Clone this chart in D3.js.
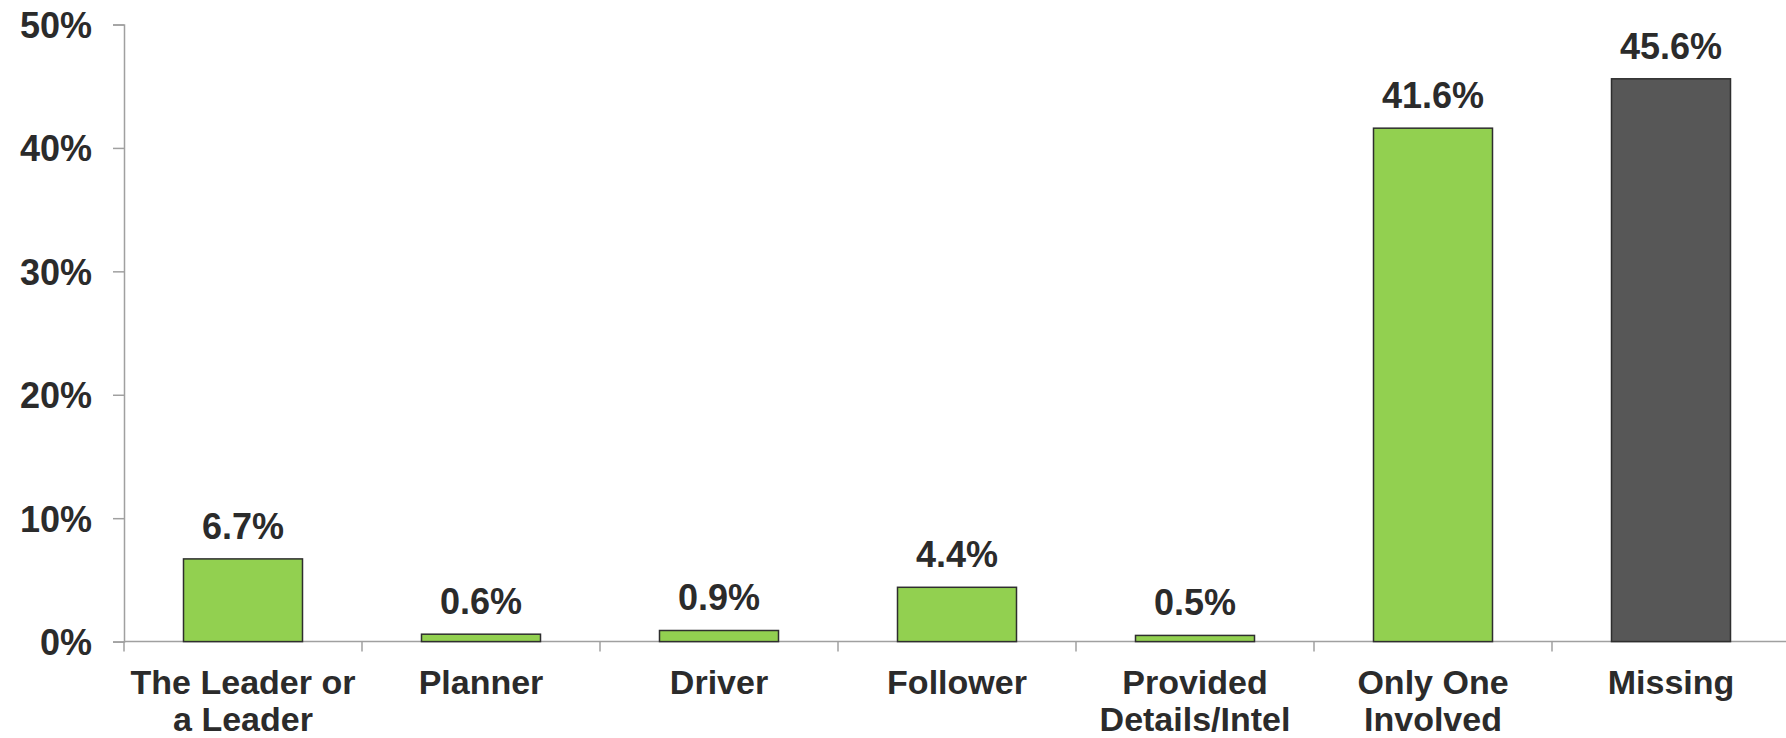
<!DOCTYPE html>
<html>
<head>
<meta charset="utf-8">
<script src="https://cdn.jsdelivr.net/npm/d3@7"></script>
<style>
  html, body { margin: 0; padding: 0; background: #fff; }
  svg { display: block; }
  text { font-family: "Liberation Sans", Arial, sans-serif; font-weight: bold; fill: #2b2b2b; }
</style>
</head>
<body>
<svg id="chart" width="1786" height="738"></svg>
<script>
const categories = [
  ["The Leader or", "a Leader"],
  ["Planner"],
  ["Driver"],
  ["Follower"],
  ["Provided", "Details/Intel"],
  ["Only One", "Involved"],
  ["Missing"]
];
const values = [6.7, 0.6, 0.9, 4.4, 0.5, 41.6, 45.6];
const barColors = ["#92D050", "#92D050", "#92D050", "#92D050", "#92D050", "#92D050", "#575757"];
const yTicks = [0, 10, 20, 30, 40, 50];

const svg = d3.select("#chart");
const mLeft = 124, mRight = 1790, mTop = 24.5, mBottom = 641.6;
const keys = categories.map((c, i) => i);

const x = d3.scaleBand().domain(keys).range([mLeft, mRight]).paddingInner(0.5).paddingOuter(0.25);
const y = d3.scaleLinear().domain([0, 50]).range([mBottom, mTop]);
const step = x.step();

const axisColor = "#a0a0a0";

// y axis
const yAxis = d3.axisLeft(y).tickValues(yTicks).tickSize(11).tickPadding(21).tickFormat(d => d + "%");
const gy = svg.append("g").attr("transform", `translate(${mLeft},0)`).call(yAxis);
gy.select(".domain").attr("stroke", axisColor).attr("stroke-width", 1.5);
gy.selectAll(".tick line").attr("stroke", axisColor).attr("stroke-width", 1.5);
gy.selectAll(".tick text").attr("font-size", 36).attr("font-family", "Liberation Sans, Arial, sans-serif")
  .attr("font-weight", "bold").attr("fill", "#2b2b2b").attr("dy", "0.36em");

// x axis line
svg.append("line").attr("x1", mLeft).attr("x2", 1786).attr("y1", y(0)).attr("y2", y(0))
  .attr("stroke", axisColor).attr("stroke-width", 1.5);
// category separator ticks
svg.selectAll("line.xtick").data(d3.range(keys.length + 1)).join("line")
  .attr("class", "xtick")
  .attr("x1", i => mLeft + i * step).attr("x2", i => mLeft + i * step)
  .attr("y1", y(0)).attr("y2", y(0) + 10)
  .attr("stroke", axisColor).attr("stroke-width", 1.5);

// bars
svg.selectAll("rect.bar").data(values).join("rect")
  .attr("class", "bar")
  .attr("x", (d, i) => x(i))
  .attr("width", x.bandwidth())
  .attr("y", d => y(d))
  .attr("height", d => y(0) - y(d))
  .attr("fill", (d, i) => barColors[i])
  .attr("stroke", "#2e2e2e")
  .attr("stroke-width", 1.5);

// value labels
svg.selectAll("text.val").data(values).join("text")
  .attr("class", "val")
  .attr("x", (d, i) => x(i) + x.bandwidth() / 2)
  .attr("y", d => y(d) - 20)
  .attr("text-anchor", "middle")
  .attr("font-size", 36)
  .text(d => d.toFixed(1) + "%");

// category labels
const cat = svg.selectAll("text.cat").data(categories).join("text")
  .attr("class", "cat")
  .attr("text-anchor", "middle")
  .attr("font-size", 34);
cat.each(function(lines, i) {
  d3.select(this).selectAll("tspan").data(lines).join("tspan")
    .attr("x", x(i) + x.bandwidth() / 2)
    .attr("y", (l, j) => 694 + j * 37)
    .text(l => l);
});
</script>
</body>
</html>
